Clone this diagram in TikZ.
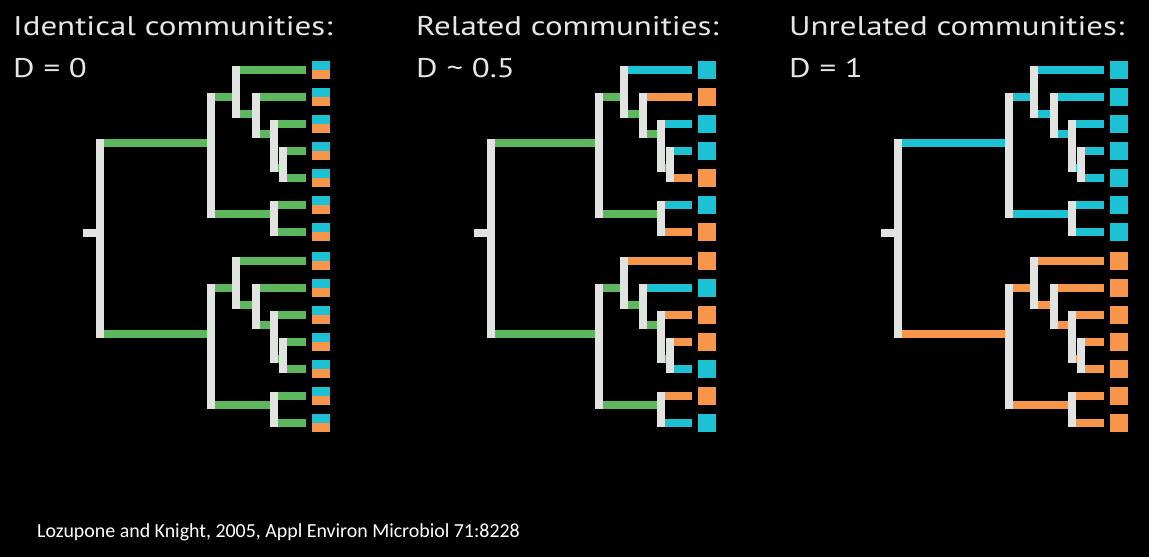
\documentclass[tikz,border=0pt]{standalone}
\usepackage{fontspec}
\setmainfont{PT Sans}[FakeStretch=1.22]
\newfontfamily\sourcefont{Carlito}
\usepackage{tikz}
\usetikzlibrary{positioning}

\definecolor{bar}{HTML}{E1E3E1}
\definecolor{grn}{HTML}{5DB85D}
\definecolor{cya}{HTML}{1CC1D3}
\definecolor{ora}{HTML}{F7954A}
\definecolor{txt}{HTML}{E6E6E6}

\begin{document}
\begin{tikzpicture}[x=1pt, y=-1pt,
  stem/.style={draw=bar, line width=8pt, line cap=rect},
  branch/.style={line width=7.5pt},
  tip-cy/.style={draw=cya}, tip-or/.style={draw=ora}, tip-mx/.style={draw=grn},
  box-cy/.style={fill=cya}, box-or/.style={fill=ora},
  box-mx/.style={path picture={
    \fill[cya] (path picture bounding box.north west) rectangle (path picture bounding box.east);
    \fill[ora] (path picture bounding box.west) rectangle (path picture bounding box.south east);}},
  leafbox/.style={minimum width=18pt, minimum height=18pt, inner sep=0pt, outer sep=0pt},
  title/.style={anchor=base west, inner sep=0pt, text=txt, font=\fontsize{27}{32}\selectfont},
  source/.style={anchor=base west, inner sep=0pt, text=white, font=\sourcefont\fontsize{19.9}{24}\selectfont}
]
\fill[black] (0,0) rectangle (1149,557);

\node[title] (idhead) at (13,35) {Identical communities:};
\node[title] (iddist) at (13,77) {D = 0};
\node[title] (relhead) at (416,35) {Related communities:};
\node[title] (reldist) at (416,77) {D \textasciitilde{} 0.5};
\node[title] (unhead) at (789,35) {Unrelated communities:};
\node[title] (undist) at (789,77) {D = 1};

% three trees, same shape
\foreach \tr/\sx/\xs/\iu/\il/\lc in {
  A/100/1/grn/grn/{mx,mx,mx,mx,mx,mx,mx,mx,mx,mx,mx,mx,mx,mx},
  B/491/0.976/grn/grn/{cy,or,cy,cy,or,cy,or,or,cy,or,or,cy,or,cy},
  C/898/1/cya/ora/{cy,cy,cy,cy,cy,cy,cy,or,or,or,or,or,or,or}}
{
\begin{scope}[xshift=\sx, xscale=\xs]
  \coordinate (\tr-R) at (0,232.7);
  \coordinate (\tr-s) at (-17,232.7);
  \foreach \cl/\dy in {1/0, 2/191} {
    \coordinate (\tr-c\cl) at (111,143+\dy);
    \coordinate (\tr-a\cl) at (136,97+\dy);
    \coordinate (\tr-b\cl) at (156,114+\dy);
    \coordinate (\tr-d\cl) at (174,134+\dy);
    \coordinate (\tr-e\cl) at (183,168+\dy);
    \coordinate (\tr-f\cl) at (174,214+\dy);
    \foreach \j in {0,...,6}
      \coordinate (\tr-l\cl-\j) at (206,70+27*\j+\dy);
  }

  % inner branches
  \foreach \cl/\ic in {1/\iu, 2/\il}
    \draw[branch, draw=\ic] (\tr-R |- \tr-c\cl) -- (\tr-c\cl)
      (\tr-c\cl |- \tr-a\cl) -- (\tr-a\cl)
      (\tr-a\cl |- \tr-b\cl) -- (\tr-b\cl)
      (\tr-b\cl |- \tr-d\cl) -- (\tr-d\cl)
      (\tr-d\cl |- \tr-e\cl) -- (\tr-e\cl)
      (\tr-c\cl |- \tr-f\cl) -- (\tr-f\cl);

  % leaves
  \foreach \col [count=\i from 0] in \lc {
    \pgfmathtruncatemacro\cl{\i/7+1}
    \pgfmathtruncatemacro\j{mod(\i,7)}
    \pgfmathsetmacro\p{{"a","b","d","e","e","f","f"}[\j]}
    \draw[branch, tip-\col] (\tr-\p\cl |- \tr-l\cl-\j) -- (\tr-l\cl-\j);
    \node[leafbox, box-\col, right=6pt of \tr-l\cl-\j] (\tr-q\cl-\j) {};
  }

  % white stems on top
  \draw[stem] (\tr-R |- \tr-c1) -- (\tr-R |- \tr-c2);
  \draw[stem, line cap=butt] (\tr-s) -- (\tr-R);
  \foreach \cl in {1,2}
    \draw[stem] (\tr-c\cl |- \tr-a\cl) -- (\tr-c\cl |- \tr-f\cl)
      (\tr-a\cl |- \tr-l\cl-0) -- (\tr-a\cl |- \tr-b\cl)
      (\tr-b\cl |- \tr-l\cl-1) -- (\tr-b\cl |- \tr-d\cl)
      (\tr-d\cl |- \tr-l\cl-2) -- (\tr-d\cl |- \tr-e\cl)
      (\tr-e\cl |- \tr-l\cl-3) -- (\tr-e\cl |- \tr-l\cl-4)
      (\tr-f\cl |- \tr-l\cl-5) -- (\tr-f\cl |- \tr-l\cl-6);
\end{scope}
}

\node[source] (ref) at (37,537) {Lozupone and Knight, 2005, Appl Environ Microbiol 71:8228};
\end{tikzpicture}
\end{document}
